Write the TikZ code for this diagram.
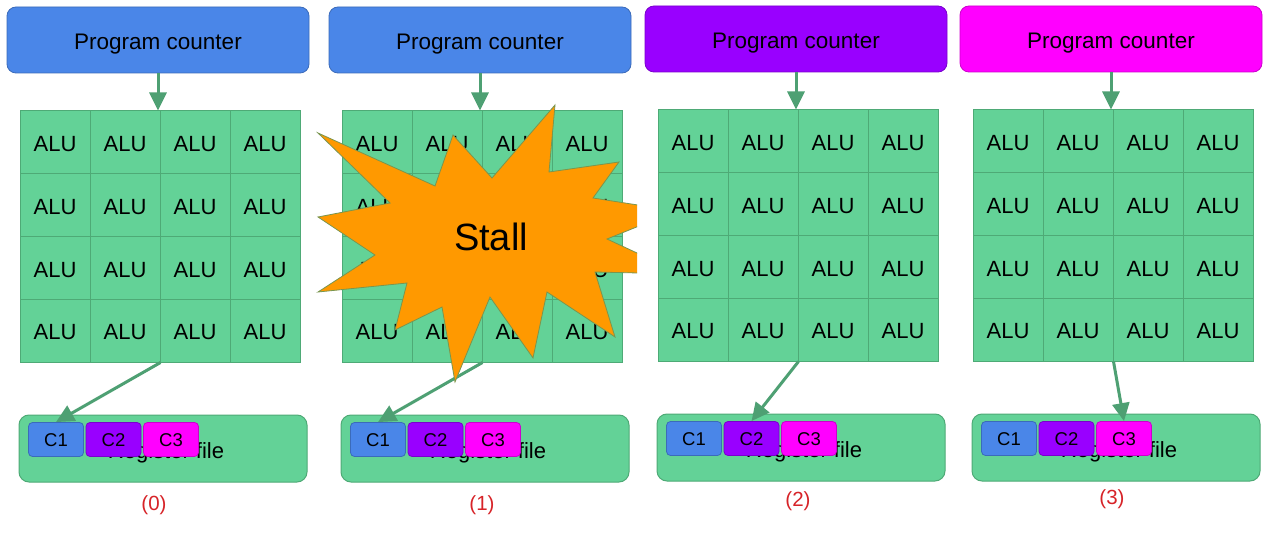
\documentclass[tikz,border=0pt]{standalone}
\usepackage{fontspec}
\setmainfont{Liberation Sans}
\usetikzlibrary{arrows.meta}
\definecolor{pcblue}{RGB}{74,134,232}
\definecolor{pcpurple}{RGB}{153,0,255}
\definecolor{pcmag}{RGB}{255,0,255}
\definecolor{alugreen}{RGB}{99,210,151}
\definecolor{gridline}{RGB}{78,170,118}
\definecolor{arrowgreen}{RGB}{78,160,115}
\definecolor{starorange}{RGB}{255,153,0}
\definecolor{staredge}{RGB}{120,150,80}
\definecolor{labred}{RGB}{215,35,40}
\begin{document}
\begin{tikzpicture}[x=1pt,y=-1pt,
 pcbox/.style={draw=#1!80!black, fill=#1, rounded corners=9pt, minimum width=302pt, minimum height=66pt, inner sep=0pt, font=\fontsize{22.5}{26}\selectfont, text height=18.2pt, text depth=0pt, line width=0.8pt},
 alucell/.style={draw=gridline, fill=alugreen, minimum width=70pt, minimum height=62.75pt, inner sep=0pt, font=\fontsize{22}{26}\selectfont, text height=18.5pt, text depth=0pt, line width=1pt},
 rfbox/.style={draw=gridline, fill=alugreen, rounded corners=10pt, minimum width=288pt, minimum height=67pt, inner sep=0pt, line width=1pt, font=\fontsize{22}{26}\selectfont, text height=19pt, text depth=0pt},
 ctx/.style={draw=#1!80!black, fill=#1, rounded corners=4pt, minimum width=55pt, minimum height=34pt, inner sep=0pt, font=\fontsize{18.5}{22}\selectfont, text height=13.4pt, text depth=0pt, line width=0.8pt},
 flow/.style={draw=arrowgreen, line width=3pt, -{Triangle[length=18pt,width=17pt]}},
 steplabel/.style={text=labred, font=\fontsize{20.5}{24}\selectfont, inner sep=0pt},
 burst/.style={fill=starorange, draw=staredge, line width=0.8pt, line join=miter}
]
\useasboundingbox (0,0) rectangle (1269,545);
\fill[white] (0,0) rectangle (1269,545);
\foreach \p/\dx/\dy/\col/\tgt/\lx/\ly in {0/0/0/pcblue/1/154/505, 1/322/0/pcblue/1/482/505, 2/638/-1/pcpurple/2/798/501, 3/953/-1/pcmag/3/1112/499}{
  \node[pcbox=\col] (p\p-pc) at ({\dx+158},{\dy+40}) {Program counter};
  \foreach \r in {1,...,4}{
    \foreach \c in {1,...,4}{
      \node[alucell] (p\p-\r-\c) at ({\dx+20+70*\c-35},{\dy+111+62.75*\r-31.375}) {ALU};
    }
  }
  \node[rfbox] (p\p-rf) at ({\dx+163},{\dy+448.5}) {\hspace{6pt}Register file};
  \node[ctx=pcblue] (p\p-c1) at ({\dx+56},{\dy+439.5}) {C1};
  \node[ctx=pcpurple] (p\p-c2) at ({\dx+113.5},{\dy+439.5}) {C2};
  \node[ctx=pcmag] (p\p-c3) at ({\dx+171},{\dy+439.5}) {C3};
  \draw[flow] (p\p-pc.south) -- (p\p-pc.south |- p\p-1-2.north);
  \draw[flow] (p\p-4-2.south east) -- (p\p-c\tgt.north);
  \node[steplabel] (p\p-lab) at (\lx,\ly) {(\p)};
}
\begin{scope}
  \clip (0,0) rectangle (637,545);
  \path[burst] (318,133) -- (435,186) -- (453,135) -- (492,178) -- (555,105)
    -- (549,172) -- (619,162) -- (593,198) -- (676,211) -- (607,239)
    -- (682,274) -- (595,272) -- (615,337) -- (547,292) -- (533,358)
    -- (490,297) -- (455,382) -- (442,307) -- (395,330) -- (407,283)
    -- (318,292) -- (375,255) -- (318,217) -- (390,203) -- cycle;
\end{scope}
\node[font=\fontsize{38}{44}\selectfont, inner sep=0pt] (stall) at (491,237) {Stall};
\end{tikzpicture}
\end{document}
